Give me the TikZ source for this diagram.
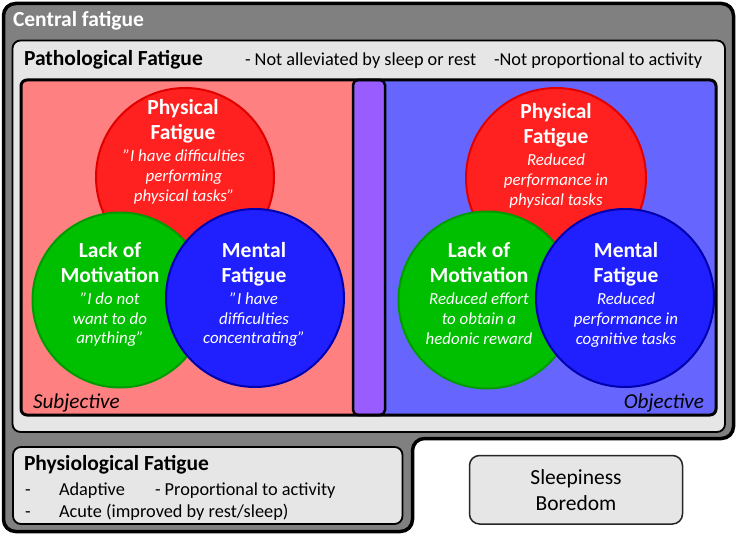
\documentclass[tikz,border=0pt]{standalone}
\usepackage{fontspec}
\setmainfont{Carlito}
\definecolor{outerg}{RGB}{128,128,128}
\definecolor{lightg}{RGB}{230,230,230}
\definecolor{pinkc}{RGB}{255,128,128}
\definecolor{purp}{RGB}{153,92,255}
\definecolor{bluebg}{RGB}{102,102,255}
\definecolor{redc}{RGB}{255,32,32}
\definecolor{redb}{RGB}{225,0,0}
\definecolor{greenc}{RGB}{0,190,0}
\definecolor{greenb}{RGB}{0,155,0}
\definecolor{bluec}{RGB}{32,32,255}
\definecolor{blueb}{RGB}{0,0,175}
\begin{document}
\begin{tikzpicture}[x=1pt,y=-1pt,
  every node/.style={inner sep=0pt, outer sep=0pt},
  ttl/.style={font=\fontsize{21.5}{24}\selectfont\bfseries, text=white, anchor=base},
  sub/.style={font=\fontsize{16.9}{19}\selectfont\itshape, text=white, anchor=base},
  head/.style={font=\fontsize{21.5}{24}\selectfont\bfseries, anchor=base west},
  note/.style={font=\fontsize{18.3}{21}\selectfont, anchor=base west},
  blob/.style={circle, minimum size=#1, line width=2pt},
  panel/.style={draw=black, fill=lightg, line width=1.8pt, rounded corners=8pt}]
\useasboundingbox (0,0) rectangle (738,537);
% outer central fatigue shape
\draw[line width=3.5pt, fill=outerg, rounded corners=12pt]
  (3.5,3.5) -- (733.5,3.5) -- (733.5,438.5) -- (412.5,438.5) -- (412.5,531.5) -- (3.5,531.5) -- cycle;
\node[head, text=white] (central) at (13,27) {Central fatigue};
% pathological panel
\draw[panel] (12.5,40.5) rectangle (725,432);
\node[head] (patho) at (24,66) {Pathological Fatigue};
\node[note] (n1) at (245,66) {- Not alleviated by sleep or rest};
\node[note] (n2) at (494,66) {-Not proportional to activity};
% inner split box
\begin{scope}
  \clip[rounded corners=6pt] (21,80) rectangle (716,415);
  \fill[pinkc] (21,80) rectangle (369,415);
  \fill[bluebg] (369,80) rectangle (716,415);
\end{scope}
% left circles
\node[blob=178pt, fill=redc, draw=redb] (lred) at (185,177) {};
\node[blob=175pt, fill=greenc, draw=greenb] (lgreen) at (120,300) {};
\node[blob=178pt, fill=bluec, draw=blueb] (lblue) at (255,298) {};
% right circles
\node[blob=180pt, fill=redc, draw=redb] (rred) at (556,178) {};
\node[blob=177pt, fill=greenc, draw=greenb] (rgreen) at (487,300) {};
\node[blob=178pt, fill=bluec, draw=blueb] (rblue) at (625,298) {};
% purple strip and border
\draw[fill=purp, line width=2.5pt, rounded corners=5pt] (353,80) rectangle (385,415);
\draw[line width=3pt, rounded corners=6pt] (21,80) rectangle (716,415);
% left texts
\node[ttl] (lr1) at (183,115) {Physical};
\node[ttl] (lr2) at (183,140) {Fatigue};
\node[sub] (lr3) at (184,162) {"I have difficulties};
\node[sub] (lr4) at (184,182) {performing};
\node[sub] (lr5) at (184,202) {physical tasks"};
\node[ttl] (lg1) at (110,257) {Lack of};
\node[ttl] (lg2) at (110,282) {Motivation};
\node[sub] (lg3) at (110,304) {"I do not};
\node[sub] (lg4) at (110,324) {want to do};
\node[sub] (lg5) at (110,343) {anything"};
\node[ttl] (lb1) at (254,257) {Mental};
\node[ttl] (lb2) at (254,282) {Fatigue};
\node[sub] (lb3) at (254,304) {"I have};
\node[sub] (lb4) at (254,324) {difficulties};
\node[sub] (lb5) at (254,343) {concentrating"};
% right texts
\node[ttl] (rr1) at (556,119) {Physical};
\node[ttl] (rr2) at (556,144) {Fatigue};
\node[sub] (rr3) at (556,166) {Reduced};
\node[sub] (rr4) at (556,186) {performance in};
\node[sub] (rr5) at (556,206) {physical tasks};
\node[ttl] (rg1) at (479,257) {Lack of};
\node[ttl] (rg2) at (479,282) {Motivation};
\node[sub] (rg3) at (479,304) {Reduced effort};
\node[sub] (rg4) at (479,324) {to obtain a};
\node[sub] (rg5) at (479,344) {hedonic reward};
\node[ttl] (rb1) at (626,257) {Mental};
\node[ttl] (rb2) at (626,282) {Fatigue};
\node[sub] (rb3) at (626,304) {Reduced};
\node[sub] (rb4) at (626,324) {performance in};
\node[sub] (rb5) at (626,344) {cognitive tasks};
\node[font=\fontsize{21.2}{24}\selectfont\itshape, anchor=base west] (subj) at (33,408) {Subjective};
\node[font=\fontsize{21.2}{24}\selectfont\itshape, anchor=base east] (obj) at (704,408) {Objective};
% physiological panel
\draw[panel] (13,447) rectangle (402.5,524);
\node[head] (physio) at (24,470) {Physiological Fatigue};
\node[note] (d1) at (25,495) {-};
\node[note] (a1) at (59,495) {Adaptive};
\node[note] (a2) at (155,495) {- Proportional to activity};
\node[note] (d2) at (25,517) {-};
\node[note] (a3) at (59,517) {Acute (improved by rest/sleep)};
% sleepiness box
\draw[fill=lightg, draw=black!85, line width=1.5pt, rounded corners=10pt] (469.5,455.5) rectangle (682.5,524);
\node[font=\fontsize{21.5}{24}\selectfont, anchor=base] (sl) at (576,484) {Sleepiness};
\node[font=\fontsize{21.5}{24}\selectfont, anchor=base] (bo) at (576,510) {Boredom};
\end{tikzpicture}
\end{document}
